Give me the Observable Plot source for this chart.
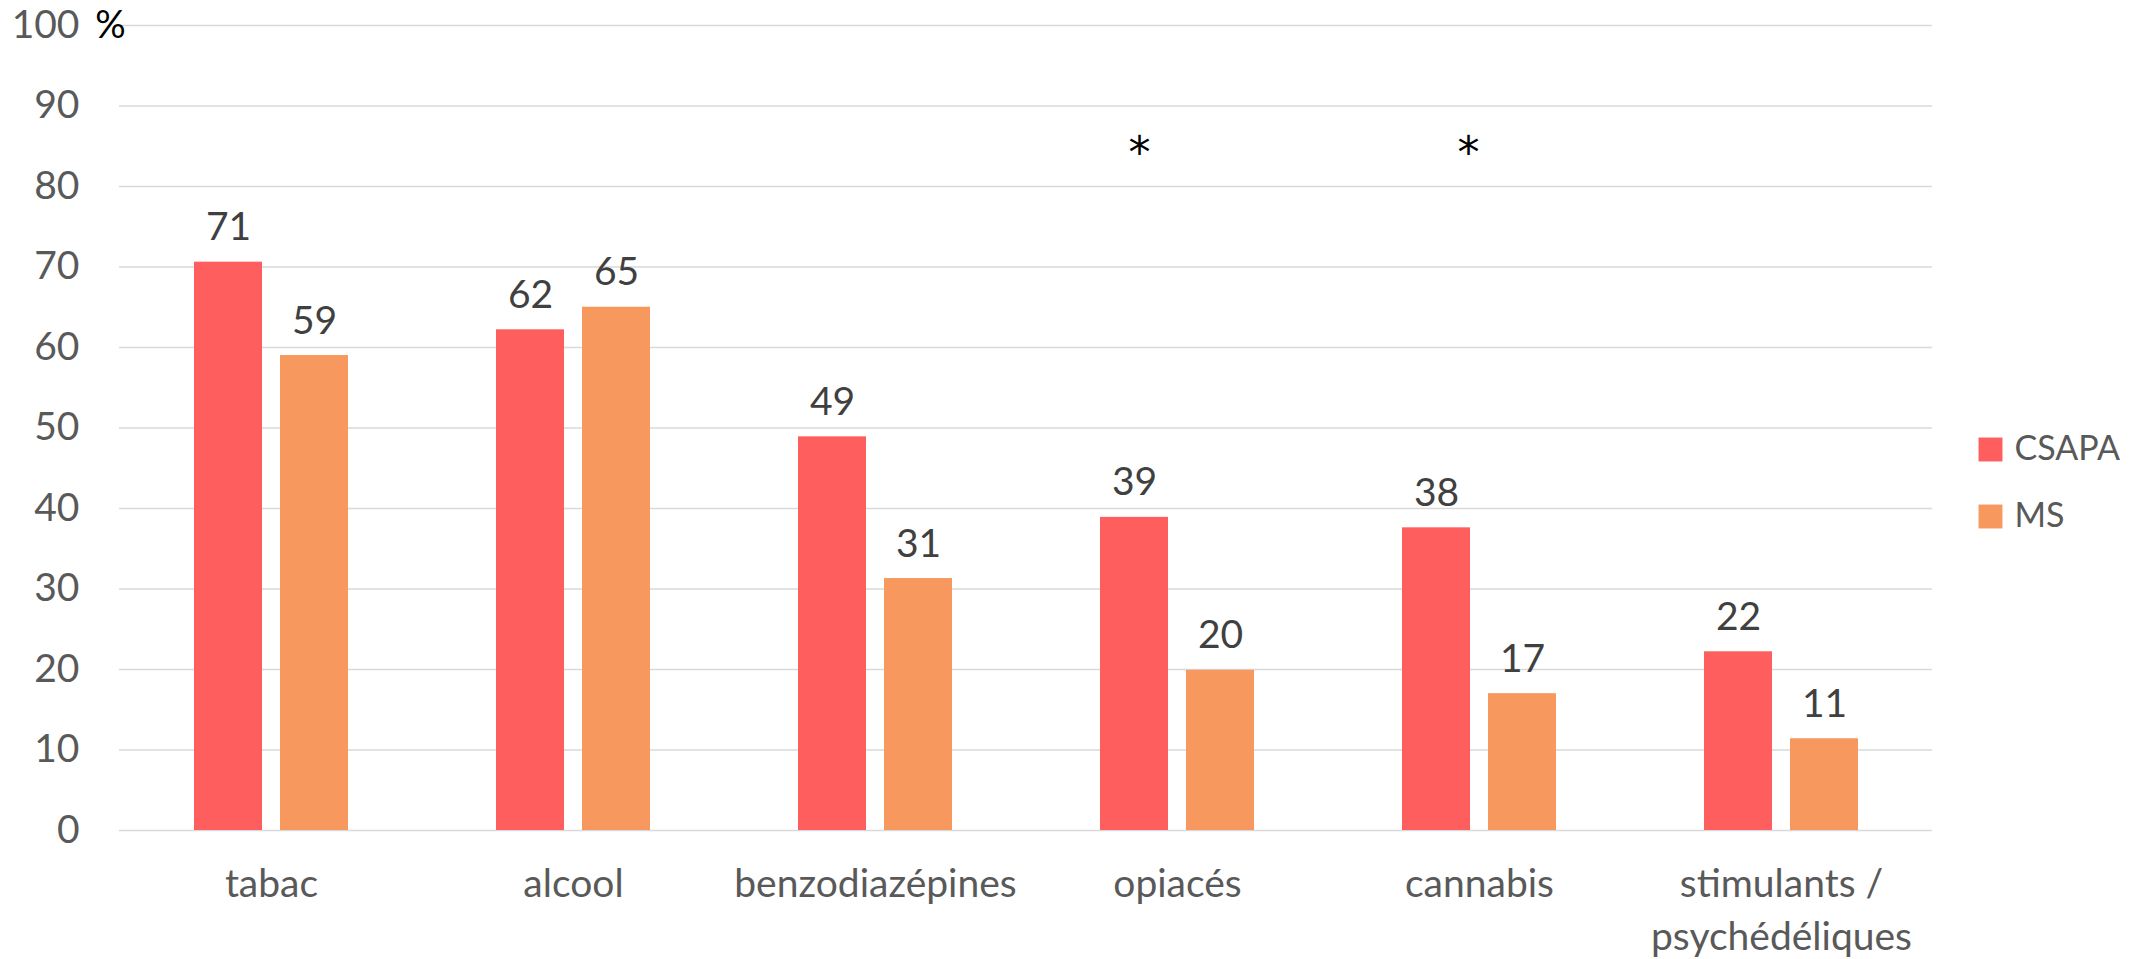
<!DOCTYPE html>
<html>
<head>
<meta charset="utf-8">
<script src="https://cdn.jsdelivr.net/npm/d3@7"></script>
<script src="https://cdn.jsdelivr.net/npm/@observablehq/plot@0.6"></script>
<style>
  html, body { margin: 0; padding: 0; background: #fff; }
  #chart svg { display: block; }
</style>
</head>
<body>
<div id="chart"></div>
<script>
const categories = ["tabac", "alcool", "benzodiazépines", "opiacés", "cannabis", "stimulants /\npsychédéliques"];
const series = ["CSAPA", "MS"];
const csapaValues = [70.6, 62.2, 48.9, 38.9, 37.6, 22.2];
const msValues = [59.0, 65.0, 31.3, 19.9, 17.0, 11.4];
const seriesColors = ["#FF5E5E", "#F7995E"];
const yTicks = [0, 10, 20, 30, 40, 50, 60, 70, 80, 90, 100];
const significant = [{category: "opiacés", y: 85.3}, {category: "cannabis", y: 85.3}];

const FONT = "Lato, 'Open Sans', sans-serif";
const rows = [];
categories.forEach((c, i) => {
  rows.push({category: c, series: "CSAPA", value: csapaValues[i]});
  rows.push({category: c, series: "MS", value: msValues[i]});
});
const csapa = rows.filter(d => d.series === "CSAPA");
const ms = rows.filter(d => d.series === "MS");

const chart = Plot.plot({
  width: 2152,
  height: 959,
  marginLeft: 119,
  marginRight: 220,
  marginTop: 25,
  marginBottom: 129,
  style: {fontFamily: FONT, color: "#595959", background: "#fff"},
  x: {domain: categories, padding: 0, label: null},
  y: {domain: [0, 100], label: null},
  color: {domain: series, range: seriesColors},
  marks: [
    Plot.ruleY(yTicks, {stroke: "#d9d9d9", strokeWidth: 1.5}),
    Plot.axisY({ticks: yTicks, tickSize: 0, tickPadding: 40, fontSize: 39, label: null}),
    Plot.axisX({tickSize: 0, tickPadding: 29, fontSize: 39, lineHeight: 1.36, label: null}),
    Plot.barY(csapa, {x: "category", y: "value", fill: "series", insetLeft: 74, insetRight: 160}),
    Plot.barY(ms, {x: "category", y: "value", fill: "series", insetLeft: 160, insetRight: 74}),
    Plot.text(csapa, {x: "category", y: "value", text: d => Math.round(d.value), dx: -43, dy: -22, lineAnchor: "bottom", fontSize: 39, fill: "#404040"}),
    Plot.text(ms, {x: "category", y: "value", text: d => Math.round(d.value), dx: 43, dy: -22, lineAnchor: "bottom", fontSize: 39, fill: "#404040"}),
    Plot.text(significant.filter(d => d.category === "opiacés"), {x: "category", y: "y", text: () => "*", dx: -38, dy: 10, fontSize: 44, fontFamily: "'DejaVu Sans', sans-serif", fill: "#000"}),
    Plot.text(significant.filter(d => d.category === "cannabis"), {x: "category", y: "y", text: () => "*", dx: -11, dy: 10, fontSize: 44, fontFamily: "'DejaVu Sans', sans-serif", fill: "#000"}),
    Plot.text([{v: 100}], {y: "v", text: () => "%", frameAnchor: "left", dx: -9, textAnchor: "middle", fontSize: 38, fill: "#000"}),
    ...series.map((s, i) => Plot.dot([s], {frameAnchor: "right", dx: 58, dy: 21.5 + i * 67, symbol: "square", r: 13.5, fill: d => d, stroke: null})),
    ...series.map((s, i) => Plot.text([s], {frameAnchor: "right", dx: 82, dy: 21.5 + i * 67, text: d => d, textAnchor: "start", fontSize: 34, fill: "#595959"}))
  ]
});
document.getElementById("chart").appendChild(chart);
</script>
</body>
</html>
